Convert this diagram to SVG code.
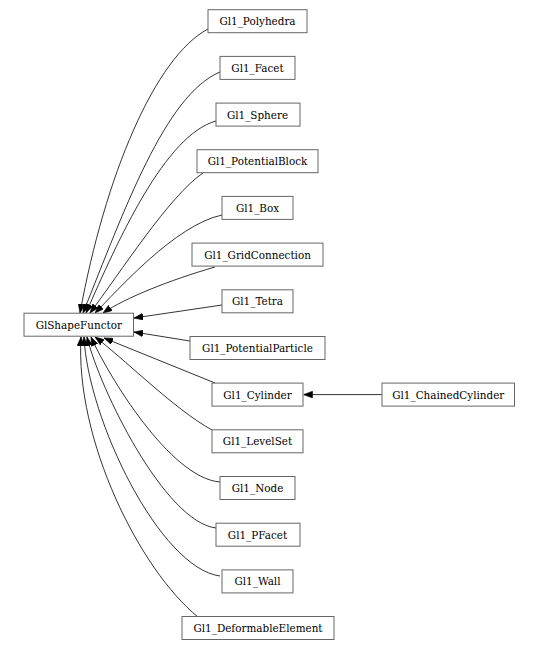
<svg xmlns="http://www.w3.org/2000/svg" width="541" height="650" viewBox="0 0 541 650">
<style>
.n rect{fill:#fff;stroke:#666;stroke-width:1}
.n text{font-family:"DejaVu Serif",serif;font-size:10.4px;fill:#000;text-anchor:middle}
.e path{fill:none;stroke:#000;stroke-width:0.8;marker-end:url(#ah)}
</style>
<defs>
<marker id="ah" markerUnits="userSpaceOnUse" markerWidth="9" markerHeight="7" refX="8" refY="3" orient="auto" viewBox="0 0 8 6">
<path d="M0,0 L8,3 L0,6 z" fill="#000" stroke="#000" stroke-width="0.5"/>
</marker>
</defs>
<rect width="541" height="650" fill="#fff"/>
<g class="e" id="edges">
<path d="M208,29 C155,57 105,176 80,313"/>
<path d="M220,72 C165,95 124,211 83,313"/>
<path d="M216,121 C165,135 118,240 86,313"/>
<path d="M203,173 C170,195 120,273 90,313"/>
<path d="M222,215 C175,225 118,290 95,313"/>
<path d="M215,267 C170,280 125,298 103,313"/>
<path d="M222,305 L134,318"/>
<path d="M190,341 L134,332"/>
<path d="M215,383 L104,338"/>
<path d="M212,430 C175,410 120,355 95,337"/>
<path d="M220,482 C170,478 108,375 91,337"/>
<path d="M216,528 C165,522 100,390 87,337"/>
<path d="M220,576 C160,568 88,420 84,337"/>
<path d="M198,617 C140,570 75,440 81,337"/>
<path d="M382,394.6 L303.5,394.6"/>
</g>
<g class="n" id="GlShapeFunctor"><rect x="24" y="313.2" width="109.5" height="23"/><text x="78.75" y="328.6">GlShapeFunctor</text></g>
<g class="n" id="Gl1_Polyhedra"><rect x="208" y="9.7" width="99" height="23"/><text x="257.5" y="25.1">Gl1_Polyhedra</text></g>
<g class="n" id="Gl1_Facet"><rect x="220" y="56.4" width="75" height="23"/><text x="257.5" y="71.8">Gl1_Facet</text></g>
<g class="n" id="Gl1_Sphere"><rect x="216" y="103.1" width="84" height="23"/><text x="257.5" y="118.5">Gl1_Sphere</text></g>
<g class="n" id="Gl1_PotentialBlock"><rect x="197" y="149.7" width="121" height="23"/><text x="257.5" y="165.1">Gl1_PotentialBlock</text></g>
<g class="n" id="Gl1_Box"><rect x="222" y="196.4" width="71" height="23"/><text x="257.5" y="211.8">Gl1_Box</text></g>
<g class="n" id="Gl1_GridConnection"><rect x="192" y="243.1" width="131" height="23"/><text x="257.5" y="258.5">Gl1_GridConnection</text></g>
<g class="n" id="Gl1_Tetra"><rect x="222" y="289.8" width="71" height="23"/><text x="257.5" y="305.2">Gl1_Tetra</text></g>
<g class="n" id="Gl1_PotentialParticle"><rect x="190" y="336.5" width="135" height="23"/><text x="257.5" y="351.9">Gl1_PotentialParticle</text></g>
<g class="n" id="Gl1_Cylinder"><rect x="212" y="383.1" width="91" height="23"/><text x="257.5" y="398.5">Gl1_Cylinder</text></g>
<g class="n" id="Gl1_ChainedCylinder"><rect x="382" y="383.1" width="132.5" height="23"/><text x="448.25" y="398.5">Gl1_ChainedCylinder</text></g>
<g class="n" id="Gl1_LevelSet"><rect x="212" y="429.8" width="91" height="23"/><text x="257.5" y="445.2">Gl1_LevelSet</text></g>
<g class="n" id="Gl1_Node"><rect x="220" y="476.5" width="75" height="23"/><text x="257.5" y="491.9">Gl1_Node</text></g>
<g class="n" id="Gl1_PFacet"><rect x="216" y="523.2" width="84" height="23"/><text x="257.5" y="538.6">Gl1_PFacet</text></g>
<g class="n" id="Gl1_Wall"><rect x="222" y="569.9" width="71" height="23"/><text x="257.5" y="585.3">Gl1_Wall</text></g>
<g class="n" id="Gl1_DeformableElement"><rect x="182" y="616.5" width="152" height="23"/><text x="258" y="631.9">Gl1_DeformableElement</text></g>
</svg>
